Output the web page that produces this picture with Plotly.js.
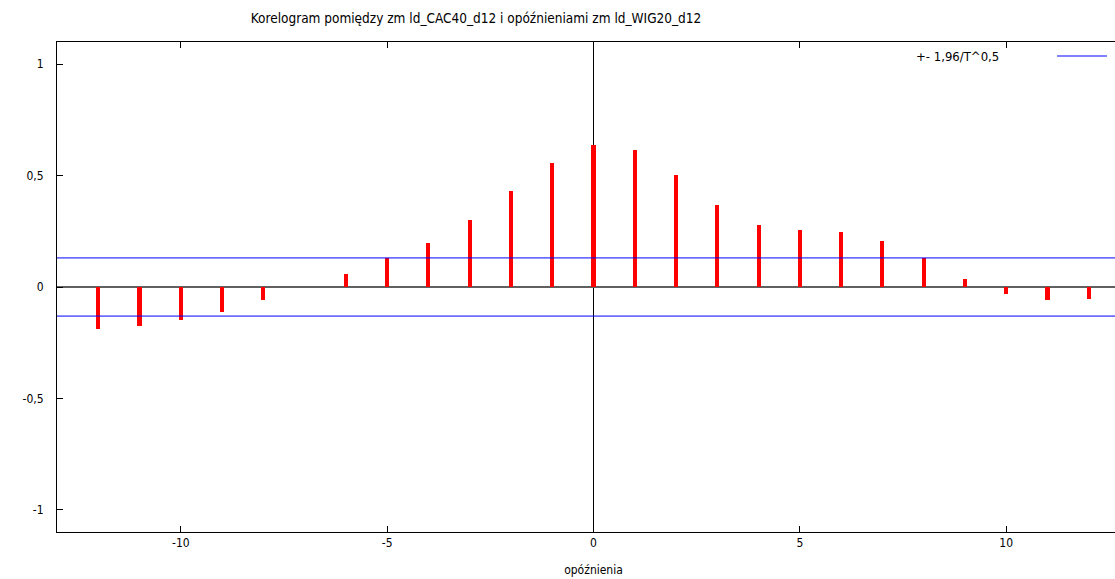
<!DOCTYPE html>
<html>
<head>
<meta charset="utf-8">
<script src="https://cdn.plot.ly/plotly-3.0.1.min.js"></script>
<style>
html,body{margin:0;padding:0;overflow:hidden;background:#fff;}
#chart{width:1131px;height:579px;}
</style>
</head>
<body>
<div id="chart"></div>
<script>
const lags = [-12,-11,-10,-9,-8,-7,-6,-5,-4,-3,-2,-1,0,1,2,3,4,5,6,7,8,9,10,11,12];
const corr = [-0.188,-0.176,-0.150,-0.111,-0.060,0.002,0.060,0.128,0.197,0.299,0.431,0.559,0.637,0.614,0.505,0.369,0.279,0.257,0.248,0.207,0.128,0.036,-0.030,-0.060,-0.056];
const bandX = [-13, 13];
const bandVal = 0.1305;
const xTicks = [-10,-5,0,5,10];
const xTickText = ['-10','-5','0','5','10'];
const yTicks = [-1,-0.5,0,0.5,1];
const yTickText = ['-1','-0,5','0','0,5','1'];
const titleText = 'Korelogram pomiędzy zm ld_CAC40_d12 i opóźnieniami zm ld_WIG20_d12';
const xTitle = 'opóźnienia';
const legendText = '+- 1,96/T^0,5';

const FONT = '"DejaVu Sans Condensed", "DejaVu Sans", sans-serif';

const traces = [
  {type:'bar', x:lags, y:corr, width:0.1, marker:{color:'#ff0000', line:{width:0}}, showlegend:false, hoverinfo:'x+y'},
  {type:'scatter', mode:'lines', x:bandX, y:[bandVal,bandVal], line:{color:'#0000ff', width:1}, showlegend:false},
  {type:'scatter', mode:'lines', x:bandX, y:[-bandVal,-bandVal], line:{color:'#0000ff', width:1}, showlegend:false}
];

const layout = {
  width:1131, height:579,
  margin:{l:57, r:1, t:42, b:47},
  paper_bgcolor:'#fff', plot_bgcolor:'#fff',
  separators:',.',
  font:{family:FONT, size:12, color:'#000'},
  title:{text:titleText, font:{family:FONT, size:13.5, color:'#000'}, x:476/1131, xref:'container', xanchor:'center', y:1-18/579, yref:'container', yanchor:'middle'},
  xaxis:{range:[-13,13], tickvals:xTicks, ticktext:xTickText, ticks:'inside', ticklen:6, tickcolor:'#000', mirror:'ticks', showline:true, linecolor:'#000', linewidth:1,
         showgrid:false, zeroline:true, zerolinecolor:'#000', zerolinewidth:1,
         title:{text:xTitle, font:{family:FONT, size:12}, standoff:16}, tickfont:{family:FONT, size:12}},
  yaxis:{range:[-1.1,1.1], tickvals:yTicks, ticktext:yTickText, ticks:'inside', ticklen:6, tickcolor:'#000', mirror:false, showline:true, linecolor:'#000', linewidth:1,
         showgrid:false, zeroline:true, zerolinecolor:'#606060', zerolinewidth:1.5, tickfont:{family:FONT, size:12}, ticklabelstandoff:10},
  annotations:[{xref:'paper', yref:'paper', x:(1001-57)/(1131-58), y:(532-56)/490, xanchor:'right', yanchor:'middle', text:legendText, showarrow:false, font:{family:FONT, size:13}}],
  shapes:[{type:'line', xref:'paper', yref:'paper', x0:(1057-57)/(1131-58), x1:(1107-57)/(1131-58), y0:(532-56)/490, y1:(532-56)/490, line:{color:'#0000ff', width:1}}],
  bargap:0
};

Plotly.newPlot('chart', traces, layout, {displayModeBar:false, staticPlot:true});
</script>
</body>
</html>
